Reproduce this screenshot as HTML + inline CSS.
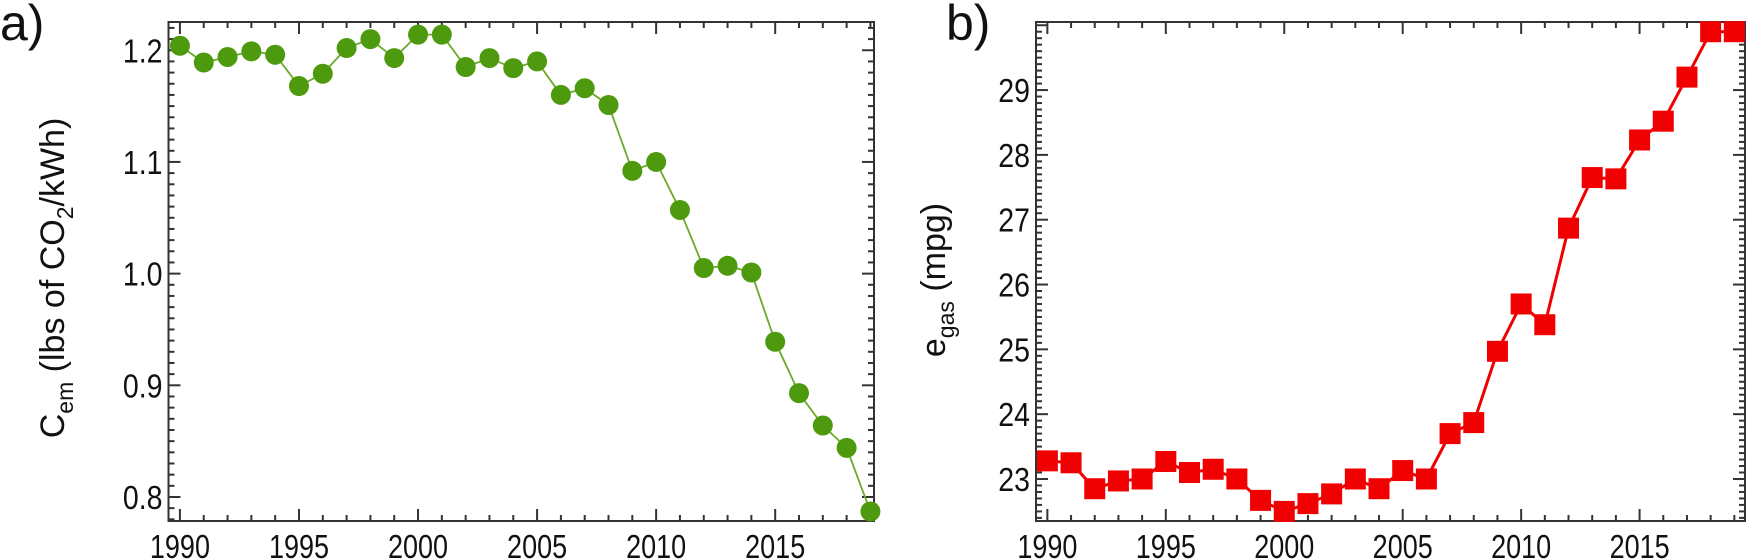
<!DOCTYPE html>
<html><head><meta charset="utf-8"><style>
html,body{margin:0;padding:0;background:#fff;}
svg{display:block;font-family:"Liberation Sans",Arial,sans-serif;}
</style></head><body>
<svg id="chart" width="1750" height="559" viewBox="0 0 1750 559" xmlns="http://www.w3.org/2000/svg">
<text x="0" y="40" font-size="50" fill="#111">a)</text>
<text x="946" y="40" font-size="50" fill="#111">b)</text>
<g id="pa"></g>
<g id="pb"></g>
<text transform="translate(64,278) rotate(-90)" text-anchor="middle" font-size="34" fill="#111">C<tspan font-size="23" dy="9">em</tspan><tspan dy="-9"> (lbs of CO</tspan><tspan font-size="23" dy="9">2</tspan><tspan dy="-9">/kWh)</tspan></text>
<text transform="translate(945,280) rotate(-90)" text-anchor="middle" font-size="34" fill="#111">e<tspan font-size="23" dy="9">gas</tspan><tspan dy="-9"> (mpg)</tspan></text>
</svg>
<script>
const years = [1990,1991,1992,1993,1994,1995,1996,1997,1998,1999,2000,2001,2002,2003,2004,2005,2006,2007,2008,2009,2010,2011,2012,2013,2014,2015,2016,2017,2018,2019];
const cemValues = [1.204,1.189,1.194,1.199,1.196,1.168,1.179,1.202,1.210,1.193,1.214,1.214,1.185,1.193,1.184,1.190,1.160,1.166,1.151,1.092,1.100,1.057,1.005,1.007,1.001,0.939,0.893,0.864,0.844,0.787];
const egasValues = [23.28,23.25,22.85,22.97,23.0,23.27,23.1,23.15,23.0,22.67,22.5,22.62,22.77,23.0,22.85,23.13,23.0,23.7,23.87,24.97,25.7,25.38,26.87,27.65,27.63,28.23,28.52,29.2,29.9,29.9];
const xTickLabels = ["1990","1995","2000","2005","2010","2015"];
const aTickLabels = ["0.8","0.9","1.0","1.1","1.2"];
const bTickLabels = ["23","24","25","26","27","28","29"];

const NS="http://www.w3.org/2000/svg";
function mk(tag,attrs,parent){const e=document.createElementNS(NS,tag);for(const k in attrs)e.setAttribute(k,attrs[k]);parent.appendChild(e);return e;}

function panel(g,cfg){
  const {L,R,T,B,x0,x1,y0,y1}=cfg;
  const sx=v=>L+(v-x0)/(x1-x0)*(R-L);
  const sy=v=>B-(v-y0)/(y1-y0)*(B-T);
  const frame=mk('rect',{x:L,y:T,width:R-L,height:B-T,fill:'none',stroke:'#333','stroke-width':2},g);
  
  
  for(let y=1990;y<=2019;y++){
    const major=y%5===0, len=major?12:6, x=sx(y);
    const t1=mk('line',{x1:x,x2:x,y1:B,y2:B-len,stroke:'#333','stroke-width':2},g);
    
    
    const t2=mk('line',{x1:x,x2:x,y1:T,y2:T+len,stroke:'#333','stroke-width':2},g);
    
    
  }
  xTickLabels.forEach(s=>{
    const t=mk('text',{transform:'translate('+sx(+s)+','+(B+37)+') scale(0.9,1.12)','text-anchor':'middle','font-size':30,fill:'#111'},g);
    t.textContent=s;
    
    
  });
  const start=Math.ceil(cfg.y0/cfg.minor-1e-6);
  for(let i=start;i*cfg.minor<=cfg.y1+1e-9;i++){
    const v=i*cfg.minor, y=sy(v);
    const major=Math.abs(v/cfg.major-Math.round(v/cfg.major))<1e-6;
    const len=major?12:6;
    const a=mk('line',{x1:L,x2:L+len,y1:y,y2:y,stroke:'#333','stroke-width':2},g);
    
    
    const b=mk('line',{x1:R,x2:R-len,y1:y,y2:y,stroke:'#333','stroke-width':2},g);
    
    
  }
  cfg.labels.forEach(s=>{
    const t=mk('text',{transform:'translate('+(L-6)+','+(sy(+s)+12)+') scale(0.95,1.12)','text-anchor':'end','font-size':30,fill:'#111'},g);
    t.textContent=s;
    
    
  });
  const pts=years.map((yr,i)=>sx(yr)+','+sy(cfg.vals[i])).join(' ');
  const pl=mk('polyline',{points:pts,fill:'none',stroke:cfg.lineColor,'stroke-width':cfg.lw},g);
  
  
  years.forEach((yr,i)=>{
    const x=sx(yr),y=sy(cfg.vals[i]);
    let m;
    if(cfg.shape==='circle') m=mk('circle',{cx:x,cy:y,r:10,fill:cfg.color},g);
    else m=mk('rect',{x:x-10.5,y:y-10.5,width:21,height:21,fill:cfg.color},g);
    
    
  });
}
panel(document.getElementById('pa'),{L:168.5,R:874,T:22,B:521,x0:1989.52,x1:2019.15,y0:0.7785,y1:1.2253,minor:0.01,major:0.1,labels:aTickLabels,vals:cemValues,color:'#4e9a0e',lineColor:'#6aaa2a',lw:1.8,shape:'circle'});
panel(document.getElementById('pb'),{L:1036,R:1745,T:22,B:521,x0:1989.52,x1:2019.45,y0:22.352,y1:30.05,minor:0.1,major:1,labels:bTickLabels,vals:egasValues,color:'#f00000',lineColor:'#f00000',lw:3,shape:'square'});
</script>
</body></html>
